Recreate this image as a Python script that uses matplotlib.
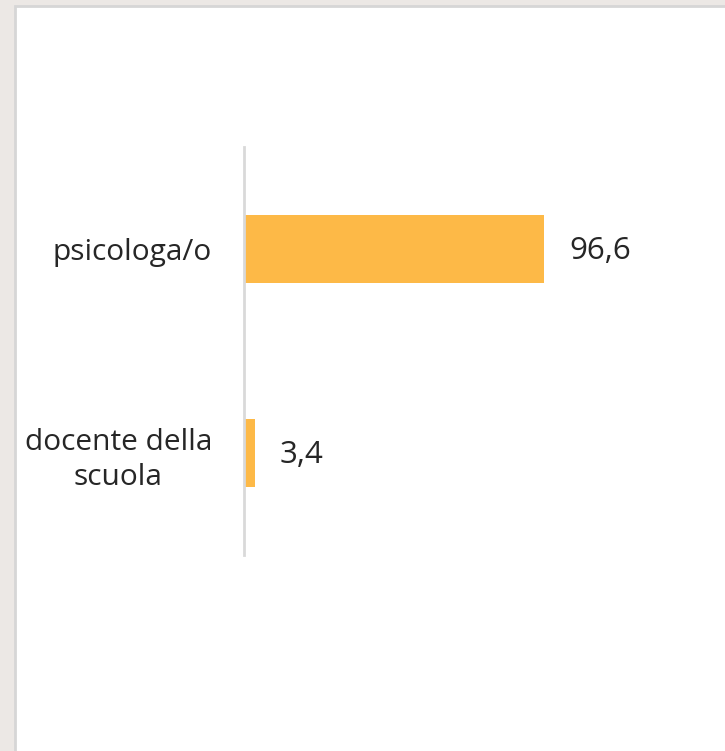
import matplotlib.pyplot as plt
from matplotlib.patches import Rectangle

categories = ['psicologa/o', 'docente della\nscuola']
values = [96.6, 3.4]
value_labels = ['96,6', '3,4']

plt.rcParams['font.family'] = ['Open Sans', 'DejaVu Sans']

fig = plt.figure(figsize=(7.25, 7.51), dpi=100)
fig.patch.set_facecolor('#ECE8E5')

# white panel with light border
panel = Rectangle((15 / 725, -0.01), 1.0, (751 - 6) / 751 + 0.01, transform=fig.transFigure,
                  facecolor='white', edgecolor='#D6D6D6', linewidth=2, zorder=-10)
fig.patches.append(panel)

ax = fig.add_axes([244 / 725, 196 / 751, 372.7 / 725, 408 / 751])
ax.set_facecolor('none')

y = list(range(len(categories)))
ax.barh(y, values, height=0.333, color='#FDB947', zorder=2)

ax.set_xlim(0, 120)
ax.set_ylim(len(categories) - 0.5, -0.5)

for yi, v, lab in zip(y, values, value_labels):
    ax.annotate(lab, (v, yi), xytext=(25, -2), textcoords='offset pixels',
                ha='left', va='center', fontsize=22.5, color='#262626')

ax.set_yticks(y)
ax.set_yticklabels(categories, fontsize=21.5, color='#262626',
                   multialignment='center', linespacing=1.3)
ax.tick_params(axis='y', length=0, pad=23)
ax.set_xticks([])

for s in ['top', 'right', 'bottom']:
    ax.spines[s].set_visible(False)
ax.spines['left'].set_color('#D9D9D9')
ax.spines['left'].set_linewidth(2)

fig.savefig('out.png', dpi=100, facecolor=fig.get_facecolor())
